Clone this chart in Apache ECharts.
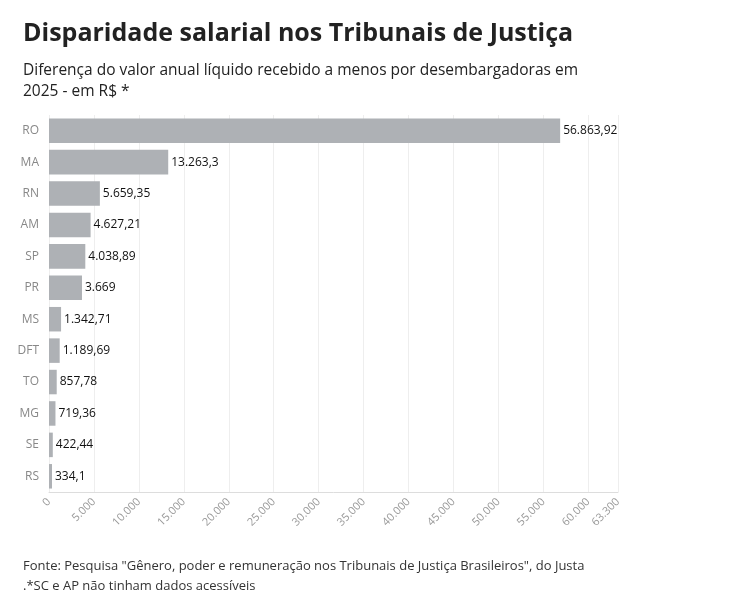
<!DOCTYPE html>
<html><head><meta charset="utf-8">
<script src="https://cdn.jsdelivr.net/npm/echarts@6/dist/echarts.min.js"></script>
<style>body{margin:0;background:#fff}#container{width:735px;height:592px}</style>
</head><body><div id="container"></div>
<script>
var states = ['RO','MA','RN','AM','SP','PR','MS','DFT','TO','MG','SE','RS'];
var values = [56863.92,13263.3,5659.35,4627.21,4038.89,3669,1342.71,1189.69,857.78,719.36,422.44,334.1];

function fmt(v){
    var parts = String(v).split('.');
    var ip = parts[0].replace(/\B(?=(\d{3})+(?!\d))/g, '.');
    return parts[1] ? ip + ',' + parts[1] : ip;
}

var myChart = echarts.init(document.getElementById('container'));
var font = 'Open Sans';
var option = {
    textStyle: {fontFamily: font},
    title: [
        {text: 'Disparidade salarial nos Tribunais de Justiça', left: 18, top: 16,
         textStyle: {fontFamily: font, fontSize: 25, fontWeight: 'bold', color: '#222'}},
        {text: 'Diferença do valor anual líquido recebido a menos por desembargadoras em\n2025 - em R$ *', left: 18, top: 55,
         textStyle: {fontFamily: font, fontSize: 15.5, fontWeight: 'normal', color: '#222', lineHeight: 21}},
        {text: 'Fonte: Pesquisa "Gênero, poder e remuneração nos Tribunais de Justiça Brasileiros", do Justa\n.*SC e AP não tinham dados acessíveis', left: 18, top: 551,
         textStyle: {fontFamily: font, fontSize: 13, fontWeight: 'normal', color: '#333', lineHeight: 20}}
    ],
    grid: {left: 49, right: 117, top: 115, bottom: 100, containLabel: false},
    xAxis: {
        type: 'value', min: 0, max: 63300, interval: 5000,
        axisLine: {show: true, lineStyle: {color: '#ddd'}},
        axisTick: {show: false},
        splitLine: {lineStyle: {color: '#eee'}},
        axisLabel: {rotate: 45, color: '#999', fontSize: 11, formatter: function(v){return fmt(v);}}
    },
    yAxis: {
        type: 'category', data: states, inverse: true,
        axisLine: {show: false}, axisTick: {show: false},
        axisLabel: {color: '#888', fontSize: 12, margin: 10}
    },
    series: [{
        type: 'bar', data: values, barWidth: '78%',
        itemStyle: {color: '#aeb1b5'},
        label: {show: true, position: 'right', distance: 3, color: '#111', fontSize: 12,
                formatter: function(p){return fmt(p.value);}}
    }]
};
myChart.setOption(option, true);
</script></body></html>
